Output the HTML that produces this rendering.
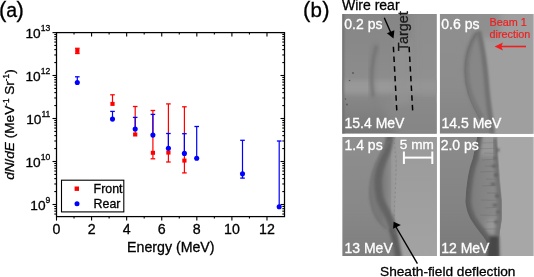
<!DOCTYPE html>
<html><head><meta charset="utf-8">
<style>
html,body{margin:0;padding:0;background:#fff;}
body{width:534px;height:277px;overflow:hidden;position:relative;font-family:"Liberation Sans",sans-serif;}
svg{position:absolute;left:0;top:0;will-change:transform;}
svg text{font-family:"Liberation Sans",sans-serif;stroke:#000;stroke-width:0.3px;}
.w text,text.w{stroke:#fff;}
.r text{stroke:#f01e1e;stroke-width:0.2px;}
</style></head><body>
<svg width="534" height="277" viewBox="0 0 534 277">
<text x="-0.9" y="16.7" font-size="22">(<tspan font-size="19.5" dx="-0.3">a</tspan><tspan dx="-0.4">)</tspan></text>
<text x="303.1" y="17.2" font-size="22">(<tspan font-size="20.5" dx="0">b</tspan><tspan dx="0.4">)</tspan></text>
<rect x="56.5" y="32.6" width="228.0" height="184.0" fill="none" stroke="#000" stroke-width="1.25"/>
<line x1="56.50" y1="216.6" x2="56.50" y2="220.6" stroke="#000" stroke-width="1.1"/>
<line x1="56.50" y1="32.6" x2="56.50" y2="36.6" stroke="#000" stroke-width="1.1"/>
<line x1="74.04" y1="216.6" x2="74.04" y2="218.6" stroke="#000" stroke-width="1.1"/>
<line x1="74.04" y1="32.6" x2="74.04" y2="34.6" stroke="#000" stroke-width="1.1"/>
<line x1="91.58" y1="216.6" x2="91.58" y2="220.6" stroke="#000" stroke-width="1.1"/>
<line x1="91.58" y1="32.6" x2="91.58" y2="36.6" stroke="#000" stroke-width="1.1"/>
<line x1="109.12" y1="216.6" x2="109.12" y2="218.6" stroke="#000" stroke-width="1.1"/>
<line x1="109.12" y1="32.6" x2="109.12" y2="34.6" stroke="#000" stroke-width="1.1"/>
<line x1="126.66" y1="216.6" x2="126.66" y2="220.6" stroke="#000" stroke-width="1.1"/>
<line x1="126.66" y1="32.6" x2="126.66" y2="36.6" stroke="#000" stroke-width="1.1"/>
<line x1="144.20" y1="216.6" x2="144.20" y2="218.6" stroke="#000" stroke-width="1.1"/>
<line x1="144.20" y1="32.6" x2="144.20" y2="34.6" stroke="#000" stroke-width="1.1"/>
<line x1="161.74" y1="216.6" x2="161.74" y2="220.6" stroke="#000" stroke-width="1.1"/>
<line x1="161.74" y1="32.6" x2="161.74" y2="36.6" stroke="#000" stroke-width="1.1"/>
<line x1="179.28" y1="216.6" x2="179.28" y2="218.6" stroke="#000" stroke-width="1.1"/>
<line x1="179.28" y1="32.6" x2="179.28" y2="34.6" stroke="#000" stroke-width="1.1"/>
<line x1="196.82" y1="216.6" x2="196.82" y2="220.6" stroke="#000" stroke-width="1.1"/>
<line x1="196.82" y1="32.6" x2="196.82" y2="36.6" stroke="#000" stroke-width="1.1"/>
<line x1="214.36" y1="216.6" x2="214.36" y2="218.6" stroke="#000" stroke-width="1.1"/>
<line x1="214.36" y1="32.6" x2="214.36" y2="34.6" stroke="#000" stroke-width="1.1"/>
<line x1="231.90" y1="216.6" x2="231.90" y2="220.6" stroke="#000" stroke-width="1.1"/>
<line x1="231.90" y1="32.6" x2="231.90" y2="36.6" stroke="#000" stroke-width="1.1"/>
<line x1="249.44" y1="216.6" x2="249.44" y2="218.6" stroke="#000" stroke-width="1.1"/>
<line x1="249.44" y1="32.6" x2="249.44" y2="34.6" stroke="#000" stroke-width="1.1"/>
<line x1="266.98" y1="216.6" x2="266.98" y2="220.6" stroke="#000" stroke-width="1.1"/>
<line x1="266.98" y1="32.6" x2="266.98" y2="36.6" stroke="#000" stroke-width="1.1"/>
<line x1="54.3" y1="214.04" x2="56.5" y2="214.04" stroke="#000" stroke-width="1.1"/>
<line x1="282.3" y1="214.04" x2="284.5" y2="214.04" stroke="#000" stroke-width="1.1"/>
<line x1="54.3" y1="211.16" x2="56.5" y2="211.16" stroke="#000" stroke-width="1.1"/>
<line x1="282.3" y1="211.16" x2="284.5" y2="211.16" stroke="#000" stroke-width="1.1"/>
<line x1="54.3" y1="208.67" x2="56.5" y2="208.67" stroke="#000" stroke-width="1.1"/>
<line x1="282.3" y1="208.67" x2="284.5" y2="208.67" stroke="#000" stroke-width="1.1"/>
<line x1="54.3" y1="206.47" x2="56.5" y2="206.47" stroke="#000" stroke-width="1.1"/>
<line x1="282.3" y1="206.47" x2="284.5" y2="206.47" stroke="#000" stroke-width="1.1"/>
<line x1="52.5" y1="204.50" x2="56.5" y2="204.50" stroke="#000" stroke-width="1.1"/>
<line x1="280.5" y1="204.50" x2="284.5" y2="204.50" stroke="#000" stroke-width="1.1"/>
<line x1="54.3" y1="191.56" x2="56.5" y2="191.56" stroke="#000" stroke-width="1.1"/>
<line x1="282.3" y1="191.56" x2="284.5" y2="191.56" stroke="#000" stroke-width="1.1"/>
<line x1="54.3" y1="183.98" x2="56.5" y2="183.98" stroke="#000" stroke-width="1.1"/>
<line x1="282.3" y1="183.98" x2="284.5" y2="183.98" stroke="#000" stroke-width="1.1"/>
<line x1="54.3" y1="178.61" x2="56.5" y2="178.61" stroke="#000" stroke-width="1.1"/>
<line x1="282.3" y1="178.61" x2="284.5" y2="178.61" stroke="#000" stroke-width="1.1"/>
<line x1="54.3" y1="174.44" x2="56.5" y2="174.44" stroke="#000" stroke-width="1.1"/>
<line x1="282.3" y1="174.44" x2="284.5" y2="174.44" stroke="#000" stroke-width="1.1"/>
<line x1="54.3" y1="171.04" x2="56.5" y2="171.04" stroke="#000" stroke-width="1.1"/>
<line x1="282.3" y1="171.04" x2="284.5" y2="171.04" stroke="#000" stroke-width="1.1"/>
<line x1="54.3" y1="168.16" x2="56.5" y2="168.16" stroke="#000" stroke-width="1.1"/>
<line x1="282.3" y1="168.16" x2="284.5" y2="168.16" stroke="#000" stroke-width="1.1"/>
<line x1="54.3" y1="165.67" x2="56.5" y2="165.67" stroke="#000" stroke-width="1.1"/>
<line x1="282.3" y1="165.67" x2="284.5" y2="165.67" stroke="#000" stroke-width="1.1"/>
<line x1="54.3" y1="163.47" x2="56.5" y2="163.47" stroke="#000" stroke-width="1.1"/>
<line x1="282.3" y1="163.47" x2="284.5" y2="163.47" stroke="#000" stroke-width="1.1"/>
<line x1="52.5" y1="161.50" x2="56.5" y2="161.50" stroke="#000" stroke-width="1.1"/>
<line x1="280.5" y1="161.50" x2="284.5" y2="161.50" stroke="#000" stroke-width="1.1"/>
<line x1="54.3" y1="148.56" x2="56.5" y2="148.56" stroke="#000" stroke-width="1.1"/>
<line x1="282.3" y1="148.56" x2="284.5" y2="148.56" stroke="#000" stroke-width="1.1"/>
<line x1="54.3" y1="140.98" x2="56.5" y2="140.98" stroke="#000" stroke-width="1.1"/>
<line x1="282.3" y1="140.98" x2="284.5" y2="140.98" stroke="#000" stroke-width="1.1"/>
<line x1="54.3" y1="135.61" x2="56.5" y2="135.61" stroke="#000" stroke-width="1.1"/>
<line x1="282.3" y1="135.61" x2="284.5" y2="135.61" stroke="#000" stroke-width="1.1"/>
<line x1="54.3" y1="131.44" x2="56.5" y2="131.44" stroke="#000" stroke-width="1.1"/>
<line x1="282.3" y1="131.44" x2="284.5" y2="131.44" stroke="#000" stroke-width="1.1"/>
<line x1="54.3" y1="128.04" x2="56.5" y2="128.04" stroke="#000" stroke-width="1.1"/>
<line x1="282.3" y1="128.04" x2="284.5" y2="128.04" stroke="#000" stroke-width="1.1"/>
<line x1="54.3" y1="125.16" x2="56.5" y2="125.16" stroke="#000" stroke-width="1.1"/>
<line x1="282.3" y1="125.16" x2="284.5" y2="125.16" stroke="#000" stroke-width="1.1"/>
<line x1="54.3" y1="122.67" x2="56.5" y2="122.67" stroke="#000" stroke-width="1.1"/>
<line x1="282.3" y1="122.67" x2="284.5" y2="122.67" stroke="#000" stroke-width="1.1"/>
<line x1="54.3" y1="120.47" x2="56.5" y2="120.47" stroke="#000" stroke-width="1.1"/>
<line x1="282.3" y1="120.47" x2="284.5" y2="120.47" stroke="#000" stroke-width="1.1"/>
<line x1="52.5" y1="118.50" x2="56.5" y2="118.50" stroke="#000" stroke-width="1.1"/>
<line x1="280.5" y1="118.50" x2="284.5" y2="118.50" stroke="#000" stroke-width="1.1"/>
<line x1="54.3" y1="105.56" x2="56.5" y2="105.56" stroke="#000" stroke-width="1.1"/>
<line x1="282.3" y1="105.56" x2="284.5" y2="105.56" stroke="#000" stroke-width="1.1"/>
<line x1="54.3" y1="97.98" x2="56.5" y2="97.98" stroke="#000" stroke-width="1.1"/>
<line x1="282.3" y1="97.98" x2="284.5" y2="97.98" stroke="#000" stroke-width="1.1"/>
<line x1="54.3" y1="92.61" x2="56.5" y2="92.61" stroke="#000" stroke-width="1.1"/>
<line x1="282.3" y1="92.61" x2="284.5" y2="92.61" stroke="#000" stroke-width="1.1"/>
<line x1="54.3" y1="88.44" x2="56.5" y2="88.44" stroke="#000" stroke-width="1.1"/>
<line x1="282.3" y1="88.44" x2="284.5" y2="88.44" stroke="#000" stroke-width="1.1"/>
<line x1="54.3" y1="85.04" x2="56.5" y2="85.04" stroke="#000" stroke-width="1.1"/>
<line x1="282.3" y1="85.04" x2="284.5" y2="85.04" stroke="#000" stroke-width="1.1"/>
<line x1="54.3" y1="82.16" x2="56.5" y2="82.16" stroke="#000" stroke-width="1.1"/>
<line x1="282.3" y1="82.16" x2="284.5" y2="82.16" stroke="#000" stroke-width="1.1"/>
<line x1="54.3" y1="79.67" x2="56.5" y2="79.67" stroke="#000" stroke-width="1.1"/>
<line x1="282.3" y1="79.67" x2="284.5" y2="79.67" stroke="#000" stroke-width="1.1"/>
<line x1="54.3" y1="77.47" x2="56.5" y2="77.47" stroke="#000" stroke-width="1.1"/>
<line x1="282.3" y1="77.47" x2="284.5" y2="77.47" stroke="#000" stroke-width="1.1"/>
<line x1="52.5" y1="75.50" x2="56.5" y2="75.50" stroke="#000" stroke-width="1.1"/>
<line x1="280.5" y1="75.50" x2="284.5" y2="75.50" stroke="#000" stroke-width="1.1"/>
<line x1="54.3" y1="62.56" x2="56.5" y2="62.56" stroke="#000" stroke-width="1.1"/>
<line x1="282.3" y1="62.56" x2="284.5" y2="62.56" stroke="#000" stroke-width="1.1"/>
<line x1="54.3" y1="54.98" x2="56.5" y2="54.98" stroke="#000" stroke-width="1.1"/>
<line x1="282.3" y1="54.98" x2="284.5" y2="54.98" stroke="#000" stroke-width="1.1"/>
<line x1="54.3" y1="49.61" x2="56.5" y2="49.61" stroke="#000" stroke-width="1.1"/>
<line x1="282.3" y1="49.61" x2="284.5" y2="49.61" stroke="#000" stroke-width="1.1"/>
<line x1="54.3" y1="45.44" x2="56.5" y2="45.44" stroke="#000" stroke-width="1.1"/>
<line x1="282.3" y1="45.44" x2="284.5" y2="45.44" stroke="#000" stroke-width="1.1"/>
<line x1="54.3" y1="42.04" x2="56.5" y2="42.04" stroke="#000" stroke-width="1.1"/>
<line x1="282.3" y1="42.04" x2="284.5" y2="42.04" stroke="#000" stroke-width="1.1"/>
<line x1="54.3" y1="39.16" x2="56.5" y2="39.16" stroke="#000" stroke-width="1.1"/>
<line x1="282.3" y1="39.16" x2="284.5" y2="39.16" stroke="#000" stroke-width="1.1"/>
<line x1="54.3" y1="36.67" x2="56.5" y2="36.67" stroke="#000" stroke-width="1.1"/>
<line x1="282.3" y1="36.67" x2="284.5" y2="36.67" stroke="#000" stroke-width="1.1"/>
<line x1="54.3" y1="34.47" x2="56.5" y2="34.47" stroke="#000" stroke-width="1.1"/>
<line x1="282.3" y1="34.47" x2="284.5" y2="34.47" stroke="#000" stroke-width="1.1"/>
<line x1="52.5" y1="32.6" x2="56.5" y2="32.6" stroke="#000" stroke-width="1.1"/>
<line x1="280.5" y1="32.6" x2="284.5" y2="32.6" stroke="#000" stroke-width="1.1"/>
<text x="56.50" y="234.1" text-anchor="middle" font-size="14.2">0</text>
<text x="91.58" y="234.1" text-anchor="middle" font-size="14.2">2</text>
<text x="126.66" y="234.1" text-anchor="middle" font-size="14.2">4</text>
<text x="161.74" y="234.1" text-anchor="middle" font-size="14.2">6</text>
<text x="196.82" y="234.1" text-anchor="middle" font-size="14.2">8</text>
<text x="231.90" y="234.1" text-anchor="middle" font-size="14.2">10</text>
<text x="266.98" y="234.1" text-anchor="middle" font-size="14.2">12</text>
<text x="50.3" y="209.70" text-anchor="end" font-size="13.7">10<tspan font-size="8.6" dy="-6.6">9</tspan></text>
<text x="50.3" y="166.70" text-anchor="end" font-size="13.7">10<tspan font-size="8.6" dy="-6.6">10</tspan></text>
<text x="50.3" y="123.70" text-anchor="end" font-size="13.7">10<tspan font-size="8.6" dy="-6.6">11</tspan></text>
<text x="50.3" y="80.70" text-anchor="end" font-size="13.7">10<tspan font-size="8.6" dy="-6.6">12</tspan></text>
<text x="50.3" y="37.70" text-anchor="end" font-size="13.7">10<tspan font-size="8.6" dy="-6.6">13</tspan></text>
<text x="170.8" y="252.4" text-anchor="middle" font-size="14.2">Energy (MeV)</text>
<text transform="translate(14.1,124.6) rotate(-90)" text-anchor="middle" font-size="13.6"><tspan font-style="italic">dN</tspan>/<tspan font-style="italic">dE</tspan> (MeV<tspan font-size="8.2" dy="-5.5">-1</tspan><tspan dy="5.5"> Sr</tspan><tspan font-size="8.2" dy="-5.5">-1</tspan><tspan dy="5.5">)</tspan></text>
<rect x="61.5" y="180.2" width="62.3" height="31.7" fill="#fff" stroke="#000" stroke-width="1.1"/>
<rect x="74.6" y="186.5" width="4.4" height="4.4" fill="#f00"/>
<circle cx="77" cy="203.8" r="2.5" fill="#00f"/>
<text x="93.6" y="193.1" font-size="12.4">Front</text>
<text x="93.6" y="207.9" font-size="12.4">Rear</text>
<line x1="77.35" y1="48.3" x2="77.35" y2="50.9" stroke="#f00" stroke-width="1.2"/><line x1="75.05" y1="48.3" x2="79.64999999999999" y2="48.3" stroke="#f00" stroke-width="1.3"/><line x1="77.35" y1="50.9" x2="77.35" y2="53.5" stroke="#f00" stroke-width="1.2"/><line x1="75.05" y1="53.5" x2="79.64999999999999" y2="53.5" stroke="#f00" stroke-width="1.3"/>
<rect x="75.25" y="48.9" width="4.2" height="4.0" fill="#f00"/>
<line x1="112.5" y1="94.8" x2="112.5" y2="103.9" stroke="#f00" stroke-width="1.2"/><line x1="110.2" y1="94.8" x2="114.8" y2="94.8" stroke="#f00" stroke-width="1.3"/>
<rect x="110.4" y="101.9" width="4.2" height="4.0" fill="#f00"/>
<line x1="135.2" y1="106.5" x2="135.2" y2="134.5" stroke="#f00" stroke-width="1.2"/><line x1="132.89999999999998" y1="106.5" x2="137.5" y2="106.5" stroke="#f00" stroke-width="1.3"/>
<rect x="133.1" y="132.5" width="4.2" height="4.0" fill="#f00"/>
<line x1="152.9" y1="110.5" x2="152.9" y2="152.8" stroke="#f00" stroke-width="1.2"/><line x1="150.6" y1="110.5" x2="155.20000000000002" y2="110.5" stroke="#f00" stroke-width="1.3"/><line x1="152.9" y1="152.8" x2="152.9" y2="158.8" stroke="#f00" stroke-width="1.2"/><line x1="150.6" y1="158.8" x2="155.20000000000002" y2="158.8" stroke="#f00" stroke-width="1.3"/>
<rect x="150.8" y="150.8" width="4.2" height="4.0" fill="#f00"/>
<line x1="168.4" y1="103.9" x2="168.4" y2="152.6" stroke="#f00" stroke-width="1.2"/><line x1="166.1" y1="103.9" x2="170.70000000000002" y2="103.9" stroke="#f00" stroke-width="1.3"/><line x1="168.4" y1="152.6" x2="168.4" y2="162" stroke="#f00" stroke-width="1.2"/><line x1="166.1" y1="162" x2="170.70000000000002" y2="162" stroke="#f00" stroke-width="1.3"/>
<rect x="166.3" y="150.6" width="4.2" height="4.0" fill="#f00"/>
<line x1="184.4" y1="106.8" x2="184.4" y2="160.6" stroke="#f00" stroke-width="1.2"/><line x1="182.1" y1="106.8" x2="186.70000000000002" y2="106.8" stroke="#f00" stroke-width="1.3"/><line x1="184.4" y1="160.6" x2="184.4" y2="172.9" stroke="#f00" stroke-width="1.2"/><line x1="182.1" y1="172.9" x2="186.70000000000002" y2="172.9" stroke="#f00" stroke-width="1.3"/>
<rect x="182.3" y="158.6" width="4.2" height="4.0" fill="#f00"/>
<line x1="77.3" y1="76.8" x2="77.3" y2="82.5" stroke="#00f" stroke-width="1.2"/><line x1="75.0" y1="76.8" x2="79.6" y2="76.8" stroke="#00f" stroke-width="1.3"/>
<circle cx="77.3" cy="82.5" r="2.55" fill="#00f"/>
<line x1="112.5" y1="111.4" x2="112.5" y2="119.1" stroke="#00f" stroke-width="1.2"/><line x1="110.2" y1="111.4" x2="114.8" y2="111.4" stroke="#00f" stroke-width="1.3"/>
<circle cx="112.5" cy="119.1" r="2.55" fill="#00f"/>
<line x1="135.2" y1="117.4" x2="135.2" y2="129" stroke="#00f" stroke-width="1.2"/><line x1="132.89999999999998" y1="117.4" x2="137.5" y2="117.4" stroke="#00f" stroke-width="1.3"/>
<circle cx="135.2" cy="129" r="2.55" fill="#00f"/>
<line x1="152.9" y1="114.4" x2="152.9" y2="135.1" stroke="#00f" stroke-width="1.2"/><line x1="150.6" y1="114.4" x2="155.20000000000002" y2="114.4" stroke="#00f" stroke-width="1.3"/>
<circle cx="152.9" cy="135.1" r="2.55" fill="#00f"/>
<line x1="168.4" y1="133.5" x2="168.4" y2="148.3" stroke="#00f" stroke-width="1.2"/><line x1="166.1" y1="133.5" x2="170.70000000000002" y2="133.5" stroke="#00f" stroke-width="1.3"/>
<circle cx="168.4" cy="148.3" r="2.55" fill="#00f"/>
<line x1="184.4" y1="133.7" x2="184.4" y2="153.4" stroke="#00f" stroke-width="1.2"/><line x1="182.1" y1="133.7" x2="186.70000000000002" y2="133.7" stroke="#00f" stroke-width="1.3"/>
<circle cx="184.4" cy="153.4" r="2.55" fill="#00f"/>
<line x1="196.7" y1="126.5" x2="196.7" y2="158.3" stroke="#00f" stroke-width="1.2"/><line x1="194.39999999999998" y1="126.5" x2="199.0" y2="126.5" stroke="#00f" stroke-width="1.3"/>
<circle cx="196.7" cy="158.3" r="2.55" fill="#00f"/>
<line x1="242.5" y1="140.3" x2="242.5" y2="173.7" stroke="#00f" stroke-width="1.2"/><line x1="240.2" y1="140.3" x2="244.8" y2="140.3" stroke="#00f" stroke-width="1.3"/><line x1="242.5" y1="173.7" x2="242.5" y2="178.1" stroke="#00f" stroke-width="1.2"/><line x1="240.2" y1="178.1" x2="244.8" y2="178.1" stroke="#00f" stroke-width="1.3"/>
<circle cx="242.5" cy="173.7" r="2.55" fill="#00f"/>
<line x1="279.2" y1="141" x2="279.2" y2="206.7" stroke="#00f" stroke-width="1.2"/><line x1="276.9" y1="141" x2="281.5" y2="141" stroke="#00f" stroke-width="1.3"/>
<circle cx="279.2" cy="206.7" r="2.55" fill="#00f"/>
<defs>
<clipPath id="c1"><rect x="342.2" y="14" width="94.6" height="119.8"/></clipPath>
<clipPath id="c2"><rect x="439.7" y="14" width="93.2" height="119.8"/></clipPath>
<clipPath id="c3"><rect x="342.2" y="137" width="94.6" height="119"/></clipPath>
<clipPath id="c4"><rect x="439.7" y="137" width="93.2" height="119"/></clipPath>
<clipPath id="bulge4"><path d="M478,130 C476.5,146 475,152 473.7,158.5 C470,168 467.2,180 466.4,201.6 C467,210 469,214 471.5,218.8 C476,226 480,231 482.3,233.9 C486,238 488,242 488.5,246 L489,260 L499,260 L498.5,244.6 L499.4,233.9 L501.5,218.8 L501.5,201.6 L499,180 L497.5,158.5 L496,130 Z"/></clipPath>
<clipPath id="cres3"><path d="M389.3,137 C382,150 377,160 373,172 C369,186 369,200 371.3,205 C373,215 378,222 387,229 L393,235 L393.6,218 L394.4,201 L395.7,184 L395.7,162.7 L393.5,137 Z"/></clipPath>
<filter id="b1" x="-50%" y="-50%" width="200%" height="200%"><feGaussianBlur stdDeviation="1"/></filter>
<filter id="b15" x="-50%" y="-50%" width="200%" height="200%"><feGaussianBlur stdDeviation="1.6"/></filter>
<filter id="b2" x="-50%" y="-50%" width="200%" height="200%"><feGaussianBlur stdDeviation="2.5"/></filter>
<filter id="b4" x="-50%" y="-50%" width="200%" height="200%"><feGaussianBlur stdDeviation="4.5"/></filter>
<filter id="b8" x="-50%" y="-50%" width="200%" height="200%"><feGaussianBlur stdDeviation="9"/></filter>
<filter id="b05" x="-50%" y="-50%" width="200%" height="200%"><feGaussianBlur stdDeviation="0.6"/></filter>
<linearGradient id="g1" x1="0" y1="0" x2="0" y2="1">
 <stop offset="0" stop-color="#868686"/>
 <stop offset="0.3" stop-color="#898989"/>
 <stop offset="0.5" stop-color="#8c8c8c"/>
 <stop offset="0.7" stop-color="#878787"/>
 <stop offset="1" stop-color="#777"/>
</linearGradient>
<linearGradient id="g2" x1="0" y1="0" x2="0" y2="1">
 <stop offset="0" stop-color="#8f8f8f"/>
 <stop offset="0.6" stop-color="#8c8c8c"/>
 <stop offset="1" stop-color="#828282"/>
</linearGradient>
<linearGradient id="g3" x1="0" y1="0" x2="0" y2="1">
 <stop offset="0" stop-color="#8e8e8e"/>
 <stop offset="0.6" stop-color="#888"/>
 <stop offset="1" stop-color="#7e7e7e"/>
</linearGradient>
<linearGradient id="g3r" x1="0" y1="0" x2="0" y2="1">
 <stop offset="0" stop-color="#9a9a9a"/>
 <stop offset="1" stop-color="#a3a3a3"/>
</linearGradient>
<linearGradient id="g4" x1="0" y1="0" x2="0" y2="1">
 <stop offset="0" stop-color="#8b8b8b"/>
 <stop offset="0.6" stop-color="#838383"/>
 <stop offset="1" stop-color="#797979"/>
</linearGradient>
<linearGradient id="g4b" x1="0" y1="0" x2="1" y2="0">
 <stop offset="0" stop-color="#777"/>
 <stop offset="0.45" stop-color="#828282"/>
 <stop offset="1" stop-color="#8e8e8e"/>
</linearGradient>
<linearGradient id="g3c" gradientUnits="userSpaceOnUse" x1="369" y1="0" x2="396" y2="0">
 <stop offset="0" stop-color="#7a7a7a"/>
 <stop offset="0.45" stop-color="#777"/>
 <stop offset="0.7" stop-color="#858585"/>
 <stop offset="1" stop-color="#9a9a9a"/>
</linearGradient>
<pattern id="stripes" x="0" y="0.5" width="10" height="3.6" patternUnits="userSpaceOnUse">
 <rect x="0" y="0" width="10" height="1" fill="#5a5a5a"/>
</pattern>
</defs>
<!-- image 1 -->
<g clip-path="url(#c1)">
<rect x="342.2" y="14" width="94.6" height="119.8" fill="url(#g1)"/>
<rect x="340" y="80" width="100" height="14" fill="#999" filter="url(#b2)"/>
<path d="M412,10 L445,10 L445,100 L412,100 Z" fill="#939393" filter="url(#b4)" opacity="0.6"/>
<path d="M380,99 L445,99 L445,140 L398,140 Z" fill="#8a8a8a" filter="url(#b4)" opacity="0.8"/>
<rect x="394" y="40" width="17" height="64" fill="#939393" filter="url(#b2)" opacity="0.8"/>
<rect x="337" y="10" width="7" height="130" fill="#6a6a6a" filter="url(#b1)" opacity="0.8"/>
<path d="M376.8,44 Q368,70 373,98" fill="none" stroke="#777" stroke-width="6" filter="url(#b2)" opacity="0.6"/>
<path d="M376.5,46 Q369,70 373,96" fill="none" stroke="#707070" stroke-width="2.2" filter="url(#b1)" opacity="0.75"/>
<g fill="#555" filter="url(#b05)">
<circle cx="353" cy="73" r="0.9"/><circle cx="349.5" cy="80.5" r="0.8"/><circle cx="345.5" cy="99" r="0.7"/><circle cx="347" cy="104.5" r="0.9"/>
</g>
</g>
<!-- image 2 -->
<g clip-path="url(#c2)">
<rect x="439.7" y="14" width="93.2" height="119.8" fill="url(#g2)"/>
<path d="M478,14 L478,30 C484,48 486.7,67.5 488.2,86.2 C489,100 492,115 494.5,140 L540,140 L540,10 Z" fill="#9f9f9f" filter="url(#b1)"/>
<rect x="470" y="8" width="30" height="30" fill="#8f8f8f" filter="url(#b4)"/>
<path d="M476.5,31 C468,45 464,60 464.2,72 C464.5,86 468,100 482,122 L493.1,122 C491,110 489,95 488.2,86.2 C486.7,67.5 484.5,48.7 478.5,31 Z" fill="#878787" filter="url(#b1)"/>
<path d="M476.5,33 C469,45 466,58 466.2,70 C466.5,84 469.5,98 482,118" fill="none" stroke="#777" stroke-width="5" filter="url(#b15)"/>
<path d="M476.5,33 C468,45 465,60 465.2,72 C465.5,86 468.5,100 481,120" fill="none" stroke="#727272" stroke-width="1.5" filter="url(#b05)" opacity="0.8"/>
<path d="M478.8,31 C483.2,48.7 485.4,67.5 486.7,86.2 C487.5,100 490,115 492.5,134" fill="none" stroke="#6f6f6f" stroke-width="4.5" filter="url(#b15)"/>
</g>
<!-- image 3 -->
<g clip-path="url(#c3)">
<rect x="342.2" y="137" width="94.6" height="119" fill="url(#g3)"/>
<path d="M389.5,137 C382,150 377,160 373,172 C369,186 369,200 371.3,205 C373,215 378,222 387,229 L393,235 L393.6,218 L394.4,201 L395.7,184 L395.7,162.7 L394,137 Z" fill="url(#g3c)" filter="url(#b1)"/>
<path d="M395.5,130 L396.5,162 L396,184 L395,201 L394.5,218 L394.5,235 L399,260 L440,260 L440,130 Z" fill="url(#g3r)" filter="url(#b05)"/>
<path d="M393.5,137 L394.5,165 L394,195 L392.5,215" fill="none" stroke="#9d9d9d" stroke-width="6" filter="url(#b2)"/>
<path d="M390,135 C389.5,142 388,150 384,158 C380.5,166 378.5,172 378,180 C378,188 378.5,193 380,198 C381,203 384,207 386.5,212 C389,217 391,222 392.5,228 C394,234 396,242 398.5,258" fill="none" stroke="#646464" stroke-width="7.5" filter="url(#b15)"/>
<path d="M390,140 C382,152 377,160 373,172 C369.5,184 369.5,196 371.5,205 C373.5,214 378,222 387,229" fill="none" stroke="#727272" stroke-width="1.8" filter="url(#b1)"/>
<path d="M394,138 L396,162.7 L395.7,184 L394.8,201 L394,218 L394,235" fill="none" stroke="#7e7e7e" stroke-width="1" stroke-dasharray="1.5 3" filter="url(#b05)" opacity="0.7"/>
<path d="M390,229 L394.5,238 L398.5,256" fill="none" stroke="#5c5c5c" stroke-width="2.5" filter="url(#b1)"/>
</g>
<!-- image 4 -->
<g clip-path="url(#c4)">
<rect x="439.7" y="137" width="93.2" height="119" fill="url(#g4)"/>
<path d="M497,130 L498.5,158.5 L500,180 L502,201.6 L502,218.8 L499.5,233.9 L498.5,244.6 L499,260 L540,260 L540,130 Z" fill="#a7a7a7" filter="url(#b05)"/>
<g clip-path="url(#bulge4)">
<rect x="460" y="130" width="45" height="130" fill="url(#g4b)"/>
<rect x="480" y="128" width="18" height="28" fill="#989898" filter="url(#b2)"/>
<ellipse cx="492" cy="226" rx="6" ry="8" fill="#979797" filter="url(#b2)"/>
<g stroke="#5a5a5a" stroke-width="1.1" opacity="0.22" filter="url(#b05)">
<line x1="482" y1="143" x2="498" y2="142.5"/><line x1="480" y1="148.7" x2="498" y2="148.3"/><line x1="484" y1="153" x2="499" y2="153.5"/>
<line x1="482" y1="160" x2="499" y2="159"/><line x1="485" y1="166" x2="500" y2="166.5"/><line x1="480" y1="172" x2="500" y2="171"/>
<line x1="486" y1="179" x2="500" y2="179.5"/><line x1="482" y1="186" x2="501" y2="185"/><line x1="487" y1="193" x2="501" y2="193"/>
<line x1="481" y1="200" x2="501" y2="200.5"/><line x1="485" y1="208" x2="501" y2="207"/><line x1="480" y1="215" x2="501" y2="215.5"/>
<line x1="486" y1="222" x2="500" y2="221.5"/><line x1="483" y1="229" x2="499" y2="229"/>
</g>
<path d="M496,138 L497.5,160 L499,182 L500.5,200 L500.5,218 L498,236" fill="none" stroke="#737373" stroke-width="7" filter="url(#b15)"/>
<path d="M478.5,130 C476.5,146 475,152 473.7,158.5 C470,168 467.2,180 466.4,201.6 C467,210 469,214 471.5,218.8 C476,226 480,231 482.3,233.9 C486,238 488,242 488.5,246 L489,260" fill="none" stroke="#626262" stroke-width="9" filter="url(#b15)"/>
</g>
<path d="M479,133 C476.5,146 475,152 473.7,158.5 C470,168 467.2,180 466.4,201.6 C467,210 469,214 471.5,218.8 C476,226 480,231 482.3,233.9 C486,238 488,242 488.5,246" fill="none" stroke="#5e5e5e" stroke-width="1.8" filter="url(#b05)"/>
<g fill="#626262" filter="url(#b1)">
<ellipse cx="494" cy="166" rx="2.5" ry="1.5"/><ellipse cx="496" cy="175" rx="2" ry="2"/><ellipse cx="493" cy="184" rx="2.5" ry="1.5"/>
<ellipse cx="497" cy="196" rx="2" ry="2"/><ellipse cx="495" cy="205" rx="2.5" ry="1.5"/><ellipse cx="498" cy="150" rx="1.5" ry="2"/>
<ellipse cx="498" cy="212" rx="2" ry="1.5"/><ellipse cx="496" cy="222" rx="2" ry="1.5"/><ellipse cx="495" cy="158" rx="1.5" ry="1.5"/>
</g>
<path d="M489.5,236 L499,236 L499.5,258 L487,258 Z" fill="#474747" filter="url(#b15)"/>
</g>
<rect x="532.9" y="14" width="1.1" height="119.8" fill="#bdbdbd"/>
<rect x="532.9" y="137" width="1.1" height="119" fill="#c4c4c4"/>
<!-- overlays -->
<g stroke="#000" stroke-width="1.5" stroke-dasharray="5.5 4.2" fill="none">
<line x1="393.4" y1="46.8" x2="396.8" y2="111"/>
<line x1="409.1" y1="46.8" x2="412.7" y2="111"/>
</g>
<text transform="translate(408.0,51.3) rotate(-90)" font-size="14.4" fill="#1a1a1a" style="stroke:#1a1a1a">Target</text>
<line x1="384.3" y1="17.8" x2="391.2" y2="33.5" stroke="#000" stroke-width="1.4"/>
<path d="M393.5,38.5 L386.9,33.2 L394.4,30.2 Z" fill="#000"/>
<g class="r" fill="#f01e1e" font-size="10.8">
<text x="489.5" y="25.6">Beam 1</text>
<text x="489.5" y="37.9">direction</text>
</g>
<line x1="500" y1="46.5" x2="526" y2="46.5" stroke="#f01e1e" stroke-width="1.6"/>
<path d="M494.6,46.5 L503,42.6 L501.2,46.5 L503,50.4 Z" fill="#f01e1e"/>
<g stroke="#fff" stroke-width="2" fill="none">
<line x1="403.9" y1="157.6" x2="432.3" y2="157.6"/>
<line x1="403.9" y1="151.5" x2="403.9" y2="164"/>
<line x1="432.3" y1="151.5" x2="432.3" y2="164"/>
</g>
<text class="w" x="399.8" y="148.9" font-size="13.6" fill="#fff">5 mm</text>
<line x1="417.4" y1="263.6" x2="396" y2="227" stroke="#000" stroke-width="1.4"/>
<path d="M393.6,221.8 L393.1,228.8 L400.9,224.9 Z" fill="#000"/>
<g class="w" fill="#fff" font-size="14">
<text x="344.3" y="29.2">0.2 ps</text>
<text x="441.3" y="29.1">0.6 ps</text>
<text x="344.5" y="128.2">15.4 MeV</text>
<text x="441.5" y="128.2">14.5 MeV</text>
<text x="344.5" y="150.1">1.4 ps</text>
<text x="440.7" y="150.1">2.0 ps</text>
<text x="344.5" y="252.7">13 MeV</text>
<text x="441.2" y="252.8">12 MeV</text>
</g>
<text x="342" y="9.8" font-size="14">Wire rear</text>
<text x="380" y="276.2" font-size="13.7">Sheath-field deflection</text>

</svg>
</body></html>
